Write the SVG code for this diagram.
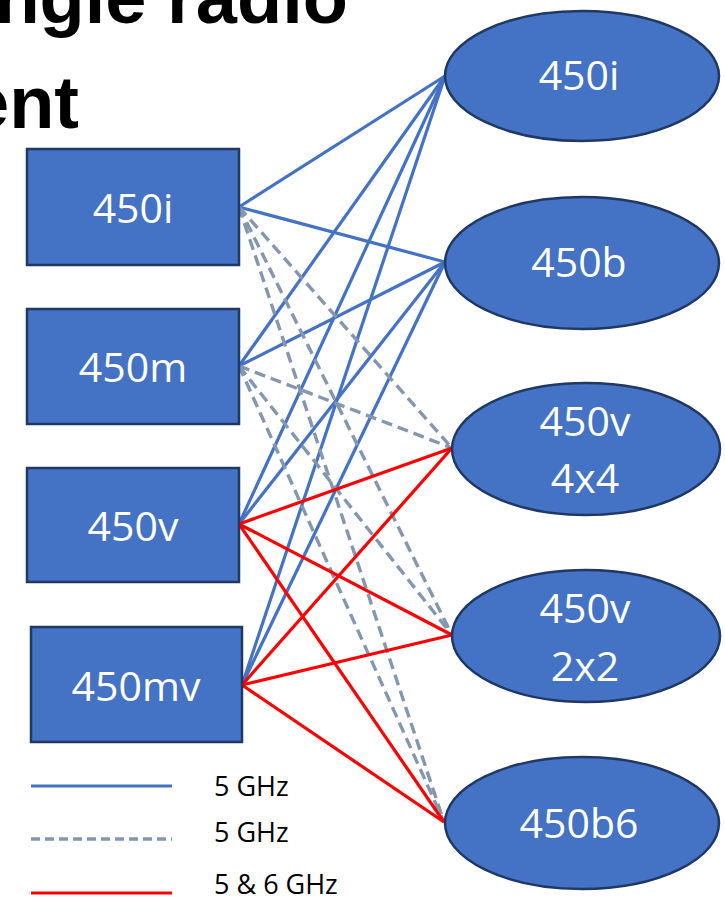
<svg xmlns="http://www.w3.org/2000/svg" width="725" height="899" viewBox="0 0 725 899">
  <style>
    .title { font-family: "Liberation Sans", Arial, sans-serif; font-weight: bold; font-size: 74px; fill: #000000; }
    .node { fill: #4472C4; stroke: #1F3864; stroke-width: 2.5; }
    .lbl { font-family: "Open Sans", "Noto Sans", sans-serif; font-size: 41px; fill: #FFFFFF; text-anchor: middle; }
    .leg { font-family: "Open Sans", "Noto Sans", sans-serif; font-size: 27px; fill: #000000; }
    .blue { stroke: #4472C4; stroke-width: 3.2; fill: none; }
    .grey { stroke: #8497B0; stroke-width: 3.4; fill: none; stroke-dasharray: 11 6; }
    .red { stroke: #FF0000; stroke-width: 3.2; fill: none; }
  </style>
  <rect width="725" height="899" fill="#FFFFFF"/>

  <g id="title">
    <text class="title" x="348" y="23" text-anchor="end">ngle radio</text>
    <text class="title" x="79" y="128" text-anchor="end">ent</text>
  </g>

  <g id="connectors">
    <!-- blue: to 450i ellipse -->
    <line class="blue" x1="239" y1="207" x2="445" y2="76"/>
    <line class="blue" x1="239" y1="366" x2="445" y2="76"/>
    <line class="blue" x1="239" y1="524" x2="445" y2="76"/>
    <line class="blue" x1="242" y1="685" x2="445" y2="76"/>
    <!-- blue: to 450b ellipse -->
    <line class="blue" x1="239" y1="207" x2="445" y2="262"/>
    <line class="blue" x1="239" y1="366" x2="445" y2="262"/>
    <line class="blue" x1="239" y1="524" x2="445" y2="262"/>
    <line class="blue" x1="242" y1="685" x2="445" y2="262"/>
    <!-- grey dashed -->
    <line class="grey" x1="239" y1="207" x2="452" y2="448"/>
    <line class="grey" x1="239" y1="207" x2="452" y2="635"/>
    <line class="grey" x1="239" y1="207" x2="444" y2="822"/>
    <line class="grey" x1="239" y1="366" x2="452" y2="448"/>
    <line class="grey" x1="239" y1="366" x2="452" y2="635"/>
    <line class="grey" x1="239" y1="366" x2="444" y2="822"/>
    <!-- red -->
    <line class="red" x1="239" y1="524" x2="452" y2="448"/>
    <line class="red" x1="239" y1="524" x2="452" y2="635"/>
    <line class="red" x1="239" y1="524" x2="444" y2="822"/>
    <line class="red" x1="242" y1="685" x2="452" y2="448"/>
    <line class="red" x1="242" y1="685" x2="452" y2="635"/>
    <line class="red" x1="242" y1="685" x2="444" y2="822"/>
  </g>

  <g id="src-450i">
    <rect class="node" x="27" y="149" width="212" height="116"/>
    <text class="lbl" x="133" y="223">450i</text>
  </g>
  <g id="src-450m">
    <rect class="node" x="27" y="309" width="212" height="115"/>
    <text class="lbl" x="133" y="382">450m</text>
  </g>
  <g id="src-450v">
    <rect class="node" x="27" y="468" width="212" height="114"/>
    <text class="lbl" x="133" y="541">450v</text>
  </g>
  <g id="src-450mv">
    <rect class="node" x="31" y="627" width="211" height="115"/>
    <text class="lbl" x="136" y="701">450mv</text>
  </g>

  <g id="dst-450i">
    <ellipse class="node" cx="582" cy="76" rx="137" ry="65"/>
    <text class="lbl" x="579" y="90">450i</text>
  </g>
  <g id="dst-450b">
    <ellipse class="node" cx="582" cy="263" rx="137" ry="66"/>
    <text class="lbl" x="579" y="277">450b</text>
  </g>
  <g id="dst-450v-4x4">
    <ellipse class="node" cx="586" cy="449" rx="134" ry="66"/>
    <text class="lbl" x="585" y="436">450v</text>
    <text class="lbl" x="585" y="493">4x4</text>
  </g>
  <g id="dst-450v-2x2">
    <ellipse class="node" cx="586" cy="636" rx="134" ry="66"/>
    <text class="lbl" x="585" y="623">450v</text>
    <text class="lbl" x="585" y="681">2x2</text>
  </g>
  <g id="dst-450b6">
    <ellipse class="node" cx="582" cy="823" rx="137" ry="66"/>
    <text class="lbl" x="579" y="838">450b6</text>
  </g>

  <g id="legend">
    <line class="blue" x1="31" y1="786" x2="172" y2="786"/>
    <line class="grey" x1="31" y1="839" x2="172" y2="839" style="stroke-dasharray: 9 5;"/>
    <line class="red" x1="31" y1="893" x2="172" y2="893"/>
    <text class="leg" x="214" y="796">5 GHz</text>
    <text class="leg" x="214" y="842">5 GHz</text>
    <text class="leg" x="214" y="894">5 &amp; 6 GHz</text>
  </g>
</svg>
